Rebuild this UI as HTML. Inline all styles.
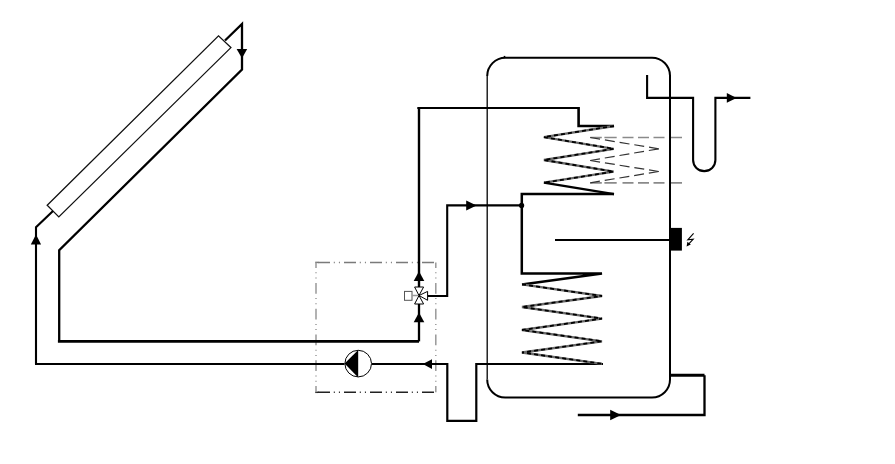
<!DOCTYPE html>
<html><head><meta charset="utf-8">
<style>
html,body{margin:0;padding:0;background:#fff;width:895px;height:464px;overflow:hidden;font-family:"Liberation Sans",sans-serif;}
svg{display:block;position:absolute;left:0;top:0;}
</style></head>
<body>
<svg width="895" height="464" viewBox="0 0 895 464">
<!-- dashed box -->
<g fill="none" stroke-width="1.5">
  <path d="M318,262.4 L435.8,262.4" stroke="#7a7a7a" stroke-dasharray="12 3.8 1 4.1 1 4.1"/>
  <path d="M315.2,262.4 L318.5,262.4" stroke="#7a7a7a"/>
  <path d="M318,392.3 L435.8,392.3" stroke="#222" stroke-dasharray="12 3.8 1 4.1 1 4.1"/>
  <path d="M315.2,392.3 L318.5,392.3" stroke="#222"/>
  <path d="M316,262.4 L316,392.3" stroke="#999" stroke-dasharray="10.8 4.4 1 4.2 1 4.4" stroke-dashoffset="5.3"/>
  <path d="M435.8,262.4 L435.8,392.3" stroke="#999" stroke-dasharray="10.8 4.4 1 4.2 1 4.4" stroke-dashoffset="5.3"/>
</g>
<!-- collector -->
<polygon points="47.2,205.3 218.5,35.8 230.9,47.6 58.8,216.9" fill="#fff" stroke="#111" stroke-width="1.3"/>
<g fill="none" stroke="#000" stroke-width="2.3" stroke-linejoin="miter">
  <path d="M225,40.5 L242,24 L242,69.5 L59.2,250.3 L59.2,341.4"/>
  <path d="M57.9,341.4 L419,341.4" stroke-width="2.8"/>
  <path d="M419,341.4 L419,304"/>
  <path d="M53,211 L36,227.3 L36,364" stroke-width="2.1"/>
  <path d="M35,364 L344.5,364" stroke-width="2.1"/>
  <path d="M372,364 L447.3,364 L447.3,420.8 L476.3,420.8 L476.3,364 L603,364" stroke-width="2.2"/>
  <path d="M419,287 L419,108" stroke-width="2.4"/>
  <path d="M417.3,108 L578.6,108" stroke-width="2.1"/>
  <path d="M578.6,107 L578.6,126 L614,126" stroke-width="2.6"/>
  <path d="M427.6,296 L447.2,296 L447.2,205.4 L521.6,205.4" stroke-width="2.1"/>
  <path d="M614,194.1 L521.8,194.1 L521.8,273.4 L602,273.4 L522,284.4" stroke-width="2.5"/>
  <path d="M555,240 L670,240" stroke-width="2.2"/>
  <path d="M647.1,75 L647.1,97.9 L693.1,97.9 L693.1,160 A11.15,11.15 0 0 0 715.4,160 L715.4,97.9 L750.4,97.9" stroke-width="2.1"/>
  <path d="M704.5,375.3 L704.5,415 L577.8,415"/>
  <path d="M670,375.3 L704.5,375.3" stroke-width="3"/>
</g>
<circle cx="521.6" cy="205.4" r="2.6" fill="#000"/>
<!-- coils -->
<g fill="none" stroke-linejoin="miter">
  <path d="M614,126 L543.9,137.1 L613.7,148.8 L543.9,160 L613.7,171.6 L543.9,182.7" stroke="#6a6a6a" stroke-width="2.3"/>
  <path d="M614,126 L543.9,137.1 L613.7,148.8 L543.9,160 L613.7,171.6 L543.9,182.7" stroke="#000" stroke-width="1.8" stroke-dasharray="4 3.1"/>
  <path d="M543.9,182.7 L614,194.1" stroke="#000" stroke-width="2.3"/>
  <path d="M522,284.4 L602,296 L522,307 L602,318.6 L522,330 L602,341.3 L522,352.5 L602,363.8" stroke="#6a6a6a" stroke-width="2.3"/>
  <path d="M522,284.4 L602,296 L522,307 L602,318.6 L522,330 L602,341.3 L522,352.5 L602,363.8" stroke="#000" stroke-width="1.8" stroke-dasharray="4 3.1"/>
</g>
<!-- dashed coil -->
<g fill="none">
<path d="M590.2,137.5 L601.8,137.5 M590.2,182.8 L601.8,182.8 M604.4,137.5 L616.7,137.5 M604.4,182.8 L616.7,182.8 M622.5,137.5 L633.5,137.5 M622.5,182.8 L633.5,182.8 M638,137.5 L649,137.5 M638,182.8 L649,182.8 M653.5,137.5 L664.5,137.5 M653.5,182.8 L664.5,182.8 M671,137.5 L682,137.5 M671,182.8 L682,182.8" stroke="#8a8a8a" stroke-width="1.7"/>
<g stroke="#333" stroke-width="1.2" stroke-dasharray="10 4.9">
<path d="M590.2,137.5 L658.7,148.8"/>
<path d="M658.7,148.8 L590.2,160.5"/>
<path d="M590.2,160.5 L658.7,171.5"/>
<path d="M658.7,171.5 L590.2,182.8"/>
</g>
</g>
<!-- tank -->
<path d="M487.2,76 A18.2,18.2 0 0 1 505.4,57.8 L652,57.8 A18,18 0 0 1 670,75.8 L670,379.6 A18,18 0 0 1 652,397.6 L505.2,397.6 A18,18 0 0 1 487.2,379.6" fill="none" stroke="#000" stroke-width="2"/>
<path d="M487.2,76 L487.2,379.6" fill="none" stroke="#000" stroke-width="1.3"/>
<rect x="503.7" y="55.9" width="1.6" height="2" fill="#000"/>
<!-- sensor -->
<rect x="670" y="227.9" width="11.9" height="22.7" fill="#000"/>
<path d="M693.6,233.3 L687.8,239.8 L693.2,239.2 L688.6,244.2" fill="none" stroke="#000" stroke-width="1.1"/>
<polygon points="686.6,246.4 687.4,241.8 690.8,244.4" fill="#000"/>
<!-- pump -->
<circle cx="358.2" cy="363.6" r="13.3" fill="#fff" stroke="#000" stroke-width="1"/>
<polygon points="358.2,350 358.2,377.6 344.6,363.6" fill="#000"/>
<!-- valve -->
<g fill="#fff" stroke="#000" stroke-width="1">
  <polygon points="419,295.5 414.6,287 423.6,287"/>
  <polygon points="419,295.5 414.6,304 423.6,304"/>
  <polygon points="419,295.5 427.6,291.4 427.6,300.3"/>
</g>
<rect x="404.5" y="291.4" width="7.5" height="8.9" fill="#fff" stroke="#555" stroke-width="1"/>
<path d="M412,295.5 L418,295.5" stroke="#999" stroke-width="1.5"/>
<!-- arrows -->
<g fill="#000">
  <polygon points="242,58.3 236.6,49 247.2,49"/>
  <polygon points="36,234.6 30.8,244.4 41.1,244.4"/>
  <polygon points="419,271.2 413.7,280.9 424.3,280.9"/>
  <polygon points="419,312.4 413.7,322.3 424.3,322.3"/>
  <polygon points="422.8,364 432,359.2 432,369"/>
  <polygon points="476.5,205.5 466.2,200.4 466.2,210.6"/>
  <polygon points="736.6,97.9 726.8,93 726.8,102.8"/>
  <polygon points="621,415 610.2,409.8 610.2,420.2"/>
</g>

</svg>
</body></html>
